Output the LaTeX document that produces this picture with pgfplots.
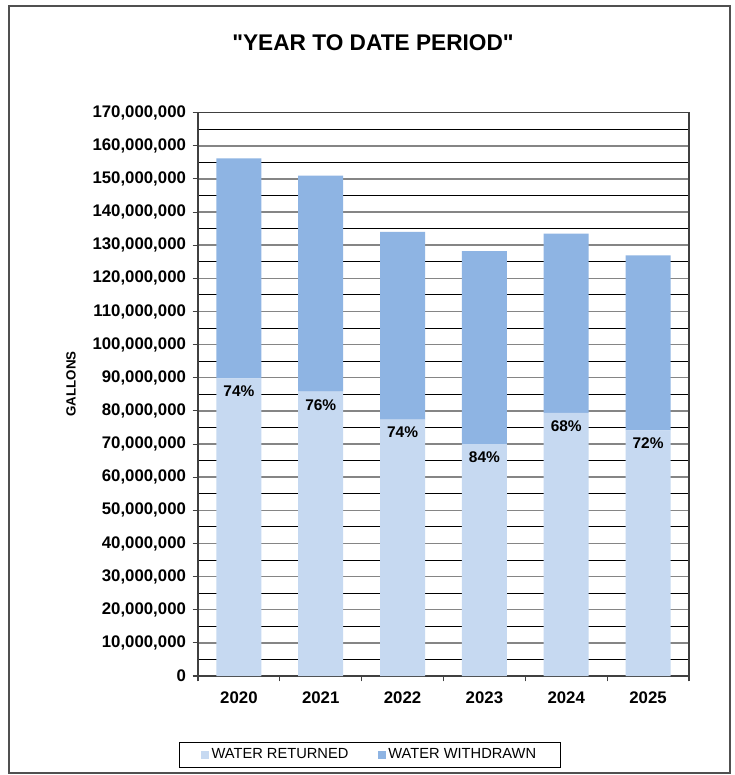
\documentclass[border=0pt]{standalone}
\usepackage{fontspec}
\setmainfont{Liberation Sans}[Ligatures=TeXOff]
\usepackage{pgfplots}
\pgfplotsset{compat=1.18}
\definecolor{ret}{HTML}{C6D9F1}
\definecolor{wd}{HTML}{8EB4E3}
\definecolor{gridgray}{HTML}{858585}
\definecolor{axisgray}{HTML}{404040}
\definecolor{framegray}{HTML}{505050}
\tikzset{pct/.style={anchor=north, yshift=-2.2pt, font=\fontsize{11.6}{13}\selectfont\bfseries, text=black}}
\begin{document}
\begin{tikzpicture}
\begin{scope}[x=0.75pt,y=0.75pt]
\fill[white] (0,0) rectangle (735,775);
\draw[framegray,line width=1.3pt] (9,2) rectangle (730,769);
\node[font=\fontsize{17}{20}\selectfont\bfseries] at (373,732.7) {"YEAR TO DATE PERIOD"};
\node[font=\fontsize{10}{12}\selectfont\bfseries,rotate=90] at (71,391) {GALLONS};
\end{scope}
\begin{axis}[
  at={(148.5pt,74.25pt)}, anchor=south west,
  scale only axis, width=368.25pt, height=422.5pt,
  ybar stacked, bar width=33.75pt,
  xmin=0.5, xmax=6.5, ymin=0, ymax=170000000,
  xtick={0.5,1.5,...,6.5}, xticklabels={},
  extra x ticks={1,2,3,4,5,6},
  extra x tick labels={2020,2021,2022,2023,2024,2025},
  extra x tick style={major tick length=0pt},
  xtick pos=bottom, ytick pos=left,
  ytick distance=10000000, minor y tick num=1,
  ymajorgrids, yminorgrids,
  major grid style={gridgray,line width=1.1pt},
  minor grid style={black,line width=0.7pt},
  minor tick length=0pt, major tick length=4pt,
  tick align=outside, tick style={axisgray,line width=0.8pt},
  axis line style={axisgray,line width=0.9pt},
  scaled y ticks=false,
  /pgf/number format/.cd, fixed, precision=0, 1000 sep={,}, assume math mode=true, /pgfplots/.cd,
  ticklabel style={font=\fontsize{12.6}{14}\selectfont\bfseries},
  yticklabel style={xshift=-1.5pt},
  xticklabel style={yshift=-8pt},
  legend columns=2,
  legend style={at={(0.350,-0.1397)}, anchor=center, draw=black, line width=0.6pt,
    font=\fontsize{11}{13}\selectfont, inner xsep=16pt, inner ysep=3pt,
    /tikz/every even column/.append style={column sep=20pt}},
  legend image code/.code={\fill[#1] (0pt,-3pt) rectangle (6pt,3pt);},
]
\addplot[fill=ret, draw=none]
  coordinates {(1,89800000) (2,85800000) (3,77400000) (4,70000000) (5,79400000) (6,74100000)};
\addlegendentry{WATER RETURNED}
\addplot[fill=wd, draw=none]
  coordinates {(1,66400000) (2,65200000) (3,56600000) (4,58200000) (5,54100000) (6,52800000)};
\addlegendentry{WATER WITHDRAWN}
\coordinate (p1) at (axis cs:1,89800000);
\coordinate (p2) at (axis cs:2,85800000);
\coordinate (p3) at (axis cs:3,77400000);
\coordinate (p4) at (axis cs:4,70000000);
\coordinate (p5) at (axis cs:5,79400000);
\coordinate (p6) at (axis cs:6,74100000);
\end{axis}
\node[pct] at (p1) {74\%};
\node[pct] at (p2) {76\%};
\node[pct] at (p3) {74\%};
\node[pct] at (p4) {84\%};
\node[pct] at (p5) {68\%};
\node[pct] at (p6) {72\%};
\end{tikzpicture}
\end{document}
